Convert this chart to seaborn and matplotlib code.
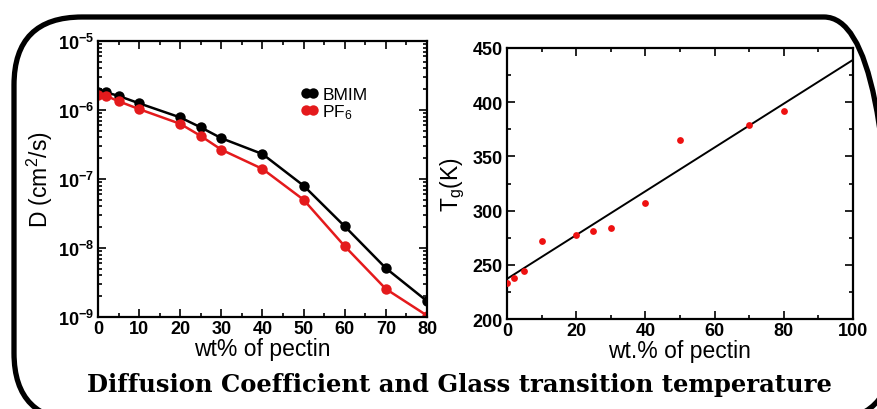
import matplotlib
matplotlib.use("Agg")
import matplotlib.pyplot as plt
import matplotlib.ticker as mticker
from matplotlib.patches import FancyBboxPatch
import numpy as np
import pandas as pd
import seaborn as sns

# diffusion coefficient (cm^2/s) vs wt% pectin
wt = [0, 2, 5, 10, 20, 25, 30, 40, 50, 60, 70, 80]
d_bmim = [1.84e-6, 1.8e-6, 1.6e-6, 1.25e-6, 7.8e-7, 5.6e-7, 3.9e-7, 2.3e-7,
          8.0e-8, 2.06e-8, 5.1e-9, 1.7e-9]
d_pf6 = [1.67e-6, 1.6e-6, 1.34e-6, 1.03e-6, 6.3e-7, 4.2e-7, 2.66e-7, 1.4e-7,
         5.0e-8, 1.06e-8, 2.55e-9, 1.05e-9]

# glass transition temperature
tg_wt = [0, 2, 5, 10, 20, 25, 30, 40, 50, 70, 80]
tg = [233, 237.5, 244, 272, 277.5, 281.5, 284, 307, 365, 379, 392]
fit_wt = [0, 100]
fit_tg = [237, 439]

sns.set_style("white")
plt.rcParams['font.family'] = ['Liberation Sans', 'DejaVu Sans']
plt.rcParams['mathtext.fontset'] = 'custom'
plt.rcParams['mathtext.rm'] = 'Liberation Sans'
plt.rcParams['mathtext.it'] = 'Liberation Sans'
plt.rcParams['mathtext.bf'] = 'Liberation Sans:bold'
for k in ('text.color', 'axes.labelcolor', 'xtick.color', 'ytick.color'):
    plt.rcParams[k] = 'black'

fig = plt.figure(figsize=(8.78, 4.10), dpi=100)

df_d = pd.DataFrame({'wt': wt * 2,
                     'D': d_bmim + d_pf6,
                     'ion': ['BMIM'] * len(wt) + ['PF$_6$'] * len(wt)})

ax1 = fig.add_axes([0.1116, 0.2244, 0.3747, 0.6732])
sns.lineplot(data=df_d, x='wt', y='D', hue='ion', palette=['black', '#e41a1c'],
             marker='o', markersize=7.5, markeredgewidth=0, linewidth=1.8,
             ax=ax1)
ax1.set_yscale('log')
ax1.set_ylim(1e-9, 1e-5)
ax1.set_xlim(0, 80)
ax1.set_xticks(np.arange(0, 81, 10))
ax1.xaxis.set_minor_locator(mticker.MultipleLocator(5))
ax1.yaxis.set_major_locator(mticker.LogLocator(base=10, numticks=10))
ax1.yaxis.set_minor_locator(mticker.LogLocator(base=10, subs=np.arange(2, 10), numticks=10))
ax1.yaxis.set_minor_formatter(mticker.NullFormatter())
ax1.set_xlabel('wt% of pectin', fontsize=16.5, labelpad=0)
ax1.set_ylabel('D (cm$^2$/s)', fontsize=16.5, labelpad=2)
ax1.legend(loc='upper left', bbox_to_anchor=(0.59, 0.865), frameon=False,
           fontsize=12.5, handlelength=1.0, handletextpad=0.25, labelspacing=0.0,
           borderpad=0, numpoints=2, title=None)

ax2 = fig.add_axes([0.5774, 0.2195, 0.394, 0.661])
sns.lineplot(x=fit_wt, y=fit_tg, color='black', linewidth=1.4, ax=ax2)
sns.scatterplot(x=tg_wt, y=tg, color='#ee1111', s=24, linewidth=0, ax=ax2,
                zorder=3)
ax2.set_xlim(0, 100)
ax2.set_ylim(200, 450)
ax2.set_xticks(np.arange(0, 101, 20))
ax2.set_yticks(np.arange(200, 451, 50))
ax2.xaxis.set_minor_locator(mticker.MultipleLocator(10))
ax2.yaxis.set_minor_locator(mticker.MultipleLocator(25))
ax2.set_xlabel('wt.% of pectin', fontsize=16.5, labelpad=0)
ax2.set_ylabel('T$_g$(K)', fontsize=16.5, labelpad=4)

for ax in (ax1, ax2):
    for sp in ax.spines.values():
        sp.set_linewidth(1.6)
        sp.set_color('black')
    ax.tick_params(which='both', direction='in', top=True, right=True,
                   left=True, bottom=True, color='black', width=1.2)
    ax.tick_params(which='major', length=6, labelsize=13, pad=2)
    ax.tick_params(axis='y', which='major', pad=3)
    ax.tick_params(which='minor', length=3)
    for lab in ax.get_xticklabels() + ax.get_yticklabels():
        lab.set_fontweight('bold')

fig.text(0.523, 0.06, 'Diffusion Coefficient and Glass transition temperature',
         ha='center', va='center', fontsize=17.5, fontweight='bold',
         family=['DejaVu Serif'], color='black')

box = FancyBboxPatch((0.14, -0.12), 8.78, 4.04,
                     boxstyle='round,pad=0,rounding_size=0.68',
                     transform=fig.dpi_scale_trans, fill=False,
                     edgecolor='black', linewidth=3.8, clip_on=False)
fig.patches.append(box)

fig.savefig('out.png', dpi=100)
